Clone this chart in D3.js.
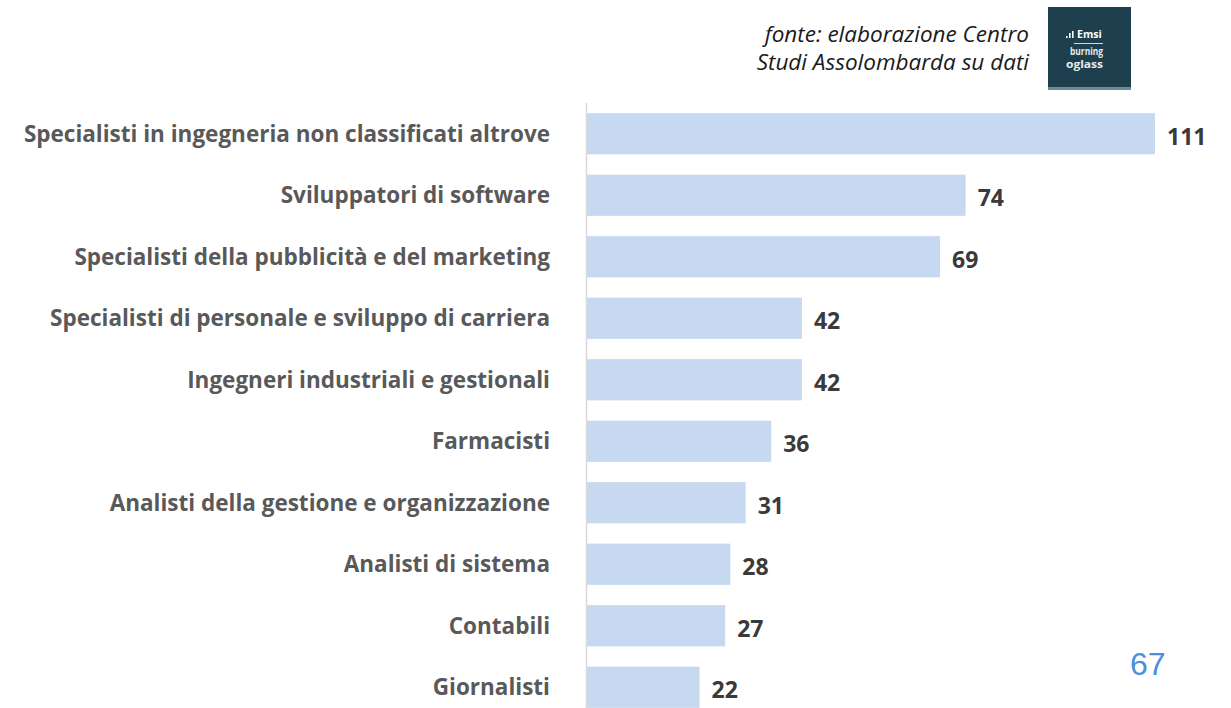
<!DOCTYPE html>
<html>
<head>
<meta charset="utf-8">
<script src="https://cdn.jsdelivr.net/npm/d3@7"></script>
<style>
  html, body { margin: 0; padding: 0; background: #ffffff; }
  svg { display: block; }
</style>
</head>
<body>
<svg id="chart" width="1231" height="708"></svg>
<script>
// Professioni più richieste (numero di annunci)
const categories = [
  "Specialisti in ingegneria non classificati altrove",
  "Sviluppatori di software",
  "Specialisti della pubblicità e del marketing",
  "Specialisti di personale e sviluppo di carriera",
  "Ingegneri industriali e gestionali",
  "Farmacisti",
  "Analisti della gestione e organizzazione",
  "Analisti di sistema",
  "Contabili",
  "Giornalisti"
];
const values = [111, 74, 69, 42, 42, 36, 31, 28, 27, 22];

const sourceLines = ["fonte: elaborazione Centro", "Studi Assolombarda su dati"];
const pageNumber = "67";

const svg = d3.select("#chart");
const FONT = "'Open Sans', Lato, sans-serif";

const x = d3.scaleLinear().domain([0, 111]).range([587, 1155]);
const y = d3.scaleBand()
  .domain(categories)
  .range([103, 718])
  .paddingInner(0.33)
  .paddingOuter(0.165);

// bars
svg.append("g")
  .selectAll("rect")
  .data(values)
  .join("rect")
  .attr("x", x(0))
  .attr("y", (d, i) => y(categories[i]))
  .attr("width", d => x(d) - x(0))
  .attr("height", y.bandwidth())
  .attr("fill", "#c6d9f1");

// vertical axis line
svg.append("line")
  .attr("x1", x(0) - 0.5).attr("x2", x(0) - 0.5)
  .attr("y1", 103).attr("y2", 708)
  .attr("stroke", "#d9d9d9")
  .attr("stroke-width", 1.5);

// category labels
svg.append("g")
  .selectAll("text")
  .data(categories)
  .join("text")
  .attr("x", 550)
  .attr("y", d => y(d) + y.bandwidth() / 2)
  .attr("dy", "0.35em")
  .attr("text-anchor", "end")
  .attr("font-family", FONT)
  .attr("font-weight", "bold")
  .attr("font-size", 22.5)
  .attr("fill", "#595959")
  .text(d => d);

// value labels
svg.append("g")
  .selectAll("text")
  .data(values)
  .join("text")
  .attr("x", d => x(d) + 12)
  .attr("y", (d, i) => y(categories[i]) + y.bandwidth() / 2 + 3)
  .attr("dy", "0.35em")
  .attr("font-family", FONT)
  .attr("font-weight", "bold")
  .attr("font-size", 23)
  .attr("fill", "#3a3a3a")
  .text(d => d);

// source note
svg.append("g")
  .selectAll("text")
  .data(sourceLines)
  .join("text")
  .attr("x", 1029)
  .attr("y", (d, i) => 42 + i * 28)
  .attr("text-anchor", "end")
  .attr("font-family", FONT)
  .attr("font-style", "italic")
  .attr("font-size", 22.5)
  .attr("fill", "#1a1a1a")
  .text(d => d);

// provider logo
const logo = svg.append("g").attr("transform", "translate(1048,7)");
logo.append("rect").attr("width", 83).attr("height", 81).attr("fill", "#1e3f4d");
logo.append("rect").attr("y", 80).attr("width", 83).attr("height", 3).attr("fill", "#6f8b96");
[[18, 2], [21, 5], [24, 7]].forEach(([bx, bh]) => {
  logo.append("rect").attr("x", bx).attr("y", 31 - bh).attr("width", 1.6).attr("height", bh).attr("fill", "#ffffff");
});
logo.append("text").attr("x", 29).attr("y", 31)
  .attr("font-family", FONT).attr("font-weight", "bold")
  .attr("font-size", 10.5).attr("fill", "#ffffff").text("Emsi");
logo.append("rect").attr("x", 26).attr("y", 36).attr("width", 29).attr("height", 1).attr("fill", "#cfd8dc");
logo.append("text").attr("x", 22).attr("y", 48)
  .attr("font-family", FONT).attr("font-weight", "bold")
  .attr("font-size", 10).attr("textLength", 33).attr("lengthAdjust", "spacingAndGlyphs")
  .attr("fill", "#e6ecee").text("burning");
logo.append("text").attr("x", 18).attr("y", 61)
  .attr("font-family", FONT).attr("font-weight", "bold")
  .attr("font-size", 10).attr("textLength", 37).attr("lengthAdjust", "spacingAndGlyphs")
  .attr("fill", "#e6ecee").text("oglass");

// page number
svg.append("text")
  .attr("x", 1130).attr("y", 675)
  .attr("font-family", "'Liberation Sans', Arial, sans-serif")
  .attr("font-size", 32)
  .attr("fill", "#4a8fdb")
  .text(pageNumber);
</script>
</body>
</html>
